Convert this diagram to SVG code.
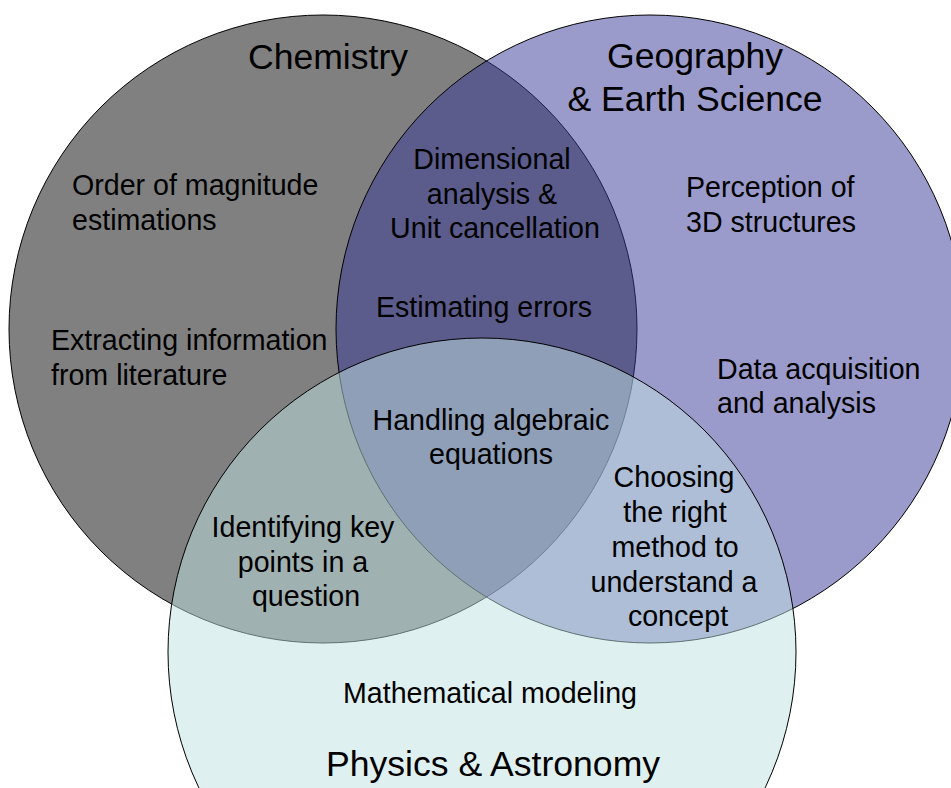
<svg xmlns="http://www.w3.org/2000/svg" width="951" height="788" viewBox="0 0 951 788">
<style>
.c{stroke:#000;stroke-width:1}
text{font-family:"Liberation Sans",Arial,sans-serif;fill:#000}
.s{font-size:28.6px}
.t{font-size:35.6px}
.m{text-anchor:middle}
</style>
<rect width="951" height="788" fill="#fff"/>
<g id="chemistry">
<circle class="c" cx="323" cy="329" r="314" fill="#808080"/>
</g>
<g id="geography">
<circle class="c" cx="650" cy="329" r="314" fill="rgb(55,55,151)" fill-opacity="0.5"/>
</g>
<g id="physics">
<circle class="c" cx="482" cy="652" r="314" fill="rgb(191,225,225)" fill-opacity="0.5"/>
</g>
<g id="labels">
<text class="t m" x="328" y="69">Chemistry</text>
<text class="t m" x="695" y="68">Geography</text>
<text class="t m" x="695" y="111">&amp; Earth Science</text>
<text class="t m" x="493" y="776">Physics &amp; Astronomy</text>
</g>
<g id="chem-only">
<text class="s" x="72" y="195">Order of magnitude</text>
<text class="s" x="72" y="230">estimations</text>
<text class="s" x="51" y="350">Extracting information</text>
<text class="s" x="51" y="385">from literature</text>
</g>
<g id="geo-only">
<text class="s" x="686" y="197">Perception of</text>
<text class="s" x="686" y="232">3D structures</text>
<text class="s" x="717" y="379">Data acquisition</text>
<text class="s" x="717" y="413">and analysis</text>
</g>
<g id="chem-geo">
<text class="s m" x="492" y="169">Dimensional</text>
<text class="s m" x="492" y="204">analysis &amp;</text>
<text class="s m" x="495" y="238">Unit cancellation</text>
<text class="s m" x="484" y="317">Estimating errors</text>
</g>
<g id="all-three">
<text class="s m" x="491" y="430">Handling algebraic</text>
<text class="s m" x="491" y="464">equations</text>
</g>
<g id="chem-phys">
<text class="s m" x="303" y="537">Identifying key</text>
<text class="s m" x="303" y="572">points in a</text>
<text class="s m" x="306" y="606">question</text>
</g>
<g id="geo-phys">
<text class="s m" x="674" y="487">Choosing</text>
<text class="s m" x="675" y="522">the right</text>
<text class="s m" x="675" y="557">method to</text>
<text class="s m" x="674" y="592">understand a</text>
<text class="s m" x="678" y="626">concept</text>
</g>
<g id="phys-only">
<text class="s m" x="490" y="703">Mathematical modeling</text>
</g>
</svg>
